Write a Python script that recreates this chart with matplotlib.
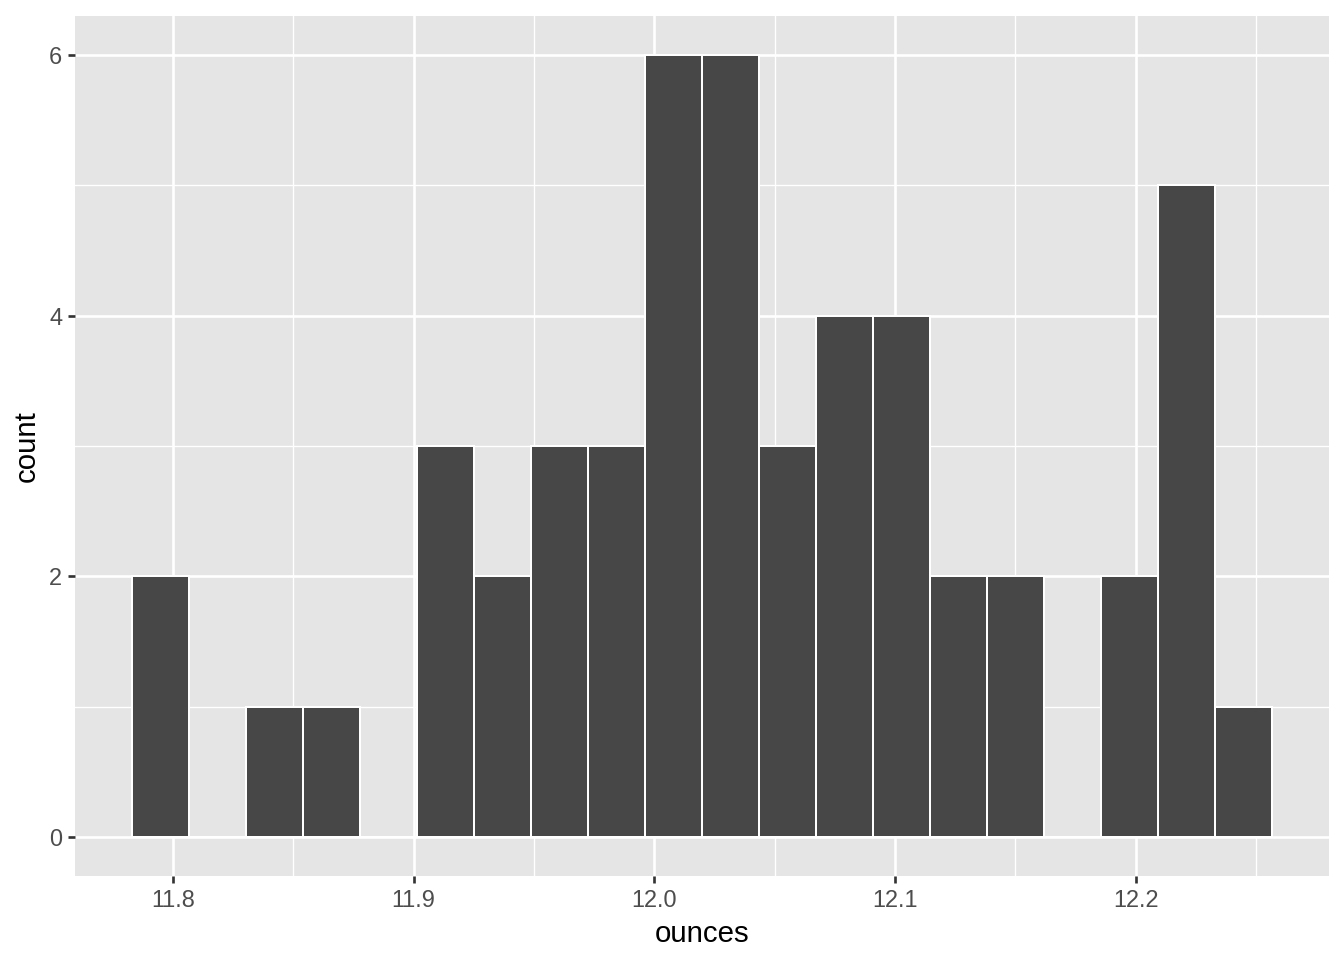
import numpy as np
import matplotlib.pyplot as plt

# histogram bins (20 bins)
bin_left = 11.7830
bin_width = 0.02368
counts = [2, 0, 1, 1, 0, 3, 2, 3, 3, 6, 6, 3, 4, 4, 2, 2, 0, 2, 5, 1]
x_ticks = [11.8, 11.9, 12.0, 12.1, 12.2]
x_tick_labels = ["11.8", "11.9", "12.0", "12.1", "12.2"]
y_ticks = [0, 2, 4, 6]

plt.rcParams['font.family'] = ['Liberation Sans', 'DejaVu Sans']

edges = bin_left + bin_width * np.arange(len(counts) + 1)
lo, hi = edges[0], edges[-1]
pad = (hi - lo) * 0.05

fig = plt.figure(figsize=(7, 5), dpi=192)
ax = fig.add_axes([75 / 1344, 1 - 876 / 960, (1329 - 75) / 1344, (876 - 16) / 960])
ax.set_facecolor('#e5e5e5')
ax.set_axisbelow(True)

ax.bar(edges[:-1], counts, width=bin_width, align='edge',
       color='#474747', edgecolor='white', linewidth=0.75)

ax.set_xlim(lo - pad, hi + pad)
ax.set_ylim(-0.3, 6.3)
ax.set_xticks(x_ticks)
ax.set_xticklabels(x_tick_labels)
ax.set_yticks(y_ticks)
ax.set_xticks([11.85, 11.95, 12.05, 12.15, 12.25], minor=True)
ax.set_yticks([1, 3, 5], minor=True)

ax.grid(which='major', color='white', linewidth=1.0)
ax.grid(which='minor', color='white', linewidth=0.5)
for s in ax.spines.values():
    s.set_visible(False)
ax.tick_params(which='major', length=2.75, width=1.0, color='#333333',
               labelsize=8.8, labelcolor='#4d4d4d', pad=2)
ax.tick_params(which='minor', length=0)

ax.set_xlabel("ounces", fontsize=11, labelpad=3)
ax.set_ylabel("count", fontsize=11, labelpad=3)

fig.savefig("out.png", dpi=192)
